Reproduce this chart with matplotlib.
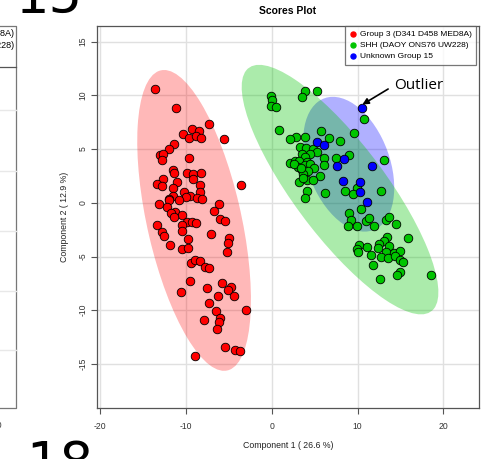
import numpy as np
import matplotlib
matplotlib.use("Agg")
import matplotlib.pyplot as plt
from matplotlib.patches import Ellipse
from matplotlib.lines import Line2D

# ---------------- data ----------------
red_x = [-13.64, -11.15, -7.27, -9.25, -8.44, -10.37, -9.6, -8.82, -8.28, -5.56, -11.39, -11.93, -13.02,
         -12.63, -12.75, -9.67, -11.47, -11.39, -9.91, -9.14, -8.28, -9.14, -12.7, -13.4, -12.82, -11.0,
         -11.54, -8.36, -8.36, -10.19, -9.52, -9.99, -8.67, -8.16, -11.47, -11.93, -12.0, -10.84, -13.13,
         -12.24, -6.11, -6.76, -11.27, -11.74, -10.45, -11.35, -6.03, -5.41, -9.91, -9.25, -8.82, -10.45,
         -13.37, -10.45, -12.79, -12.55, -7.11, -5.01, -5.13, -9.76, -11.82, -10.45, -9.76, -5.25, -9.44,
         -8.9, -8.36, -7.81, -7.31, -9.52, -5.76, -7.5, -4.74, -5.05, -10.61, -4.39, -6.29, -7.27, -6.53,
         -2.96, -6.03, -6.11, -7.93, -6.34, -5.44, -4.28, -3.73, -8.9, -3.58]
red_y = [10.64, 8.87, 7.38, 6.89, 6.64, 6.42, 6.05, 6.24, 6.02, 5.96, 5.43, 5.03, 4.44,
         4.5, 4.0, 4.16, 3.07, 2.82, 2.82, 2.7, 2.82, 2.2, 2.2, 1.77, 1.52, 1.96,
         1.4, 1.65, 1.02, 1.02, 0.65, 0.53, 0.47, 0.4, 0.65, 0.4, 0.28, 0.28, -0.09,
         -0.4, -0.09, -0.72, -0.81, -0.96, -1.12, -1.33, -1.52, -1.7, -1.77, -1.83, -1.89, -2.02,
         -2.05, -2.58, -2.73, -3.07, -2.91, -3.29, -3.7, -3.41, -3.94, -4.31, -4.25, -4.56, -5.59,
         -5.31, -5.46, -6.02, -6.08, -7.26, -7.48, -7.95, -7.79, -8.1, -8.32, -8.63, -8.69, -9.34, -10.06,
         -9.99, -10.71, -11.11, -10.89, -11.76, -13.44, -13.69, -13.78, -14.22, 1.65]

green_x = [3.89, 5.32, 3.57, -0.08, 0.0, -0.08, 0.51, 10.8, 0.86, 5.71, 9.63, 2.84, 3.89, 2.17, 6.68, 7.96,
           3.3, 3.96, 4.85, 5.32, 4.47, 3.5, 3.89, 6.1, 7.46, 9.01, 2.14, 2.72, 3.22, 4.15, 3.1, 3.89,
           4.47, 4.94, 6.14, 3.5, 4.2, 3.69, 5.67, 3.22, 4.15, 4.78, 3.65, 4.08, 6.22, 8.58, 9.91, 9.48,
           3.92, 13.05, 12.7, 2.63, 3.42,
           10.41, 9.01, 9.24, 8.93, 9.91, 11.0, 11.35, 11.96, 13.32, 13.71, 14.49, 15.85, 13.4, 13.13,
           12.5, 13.63, 10.18, 11.15, 9.98, 10.06, 12.35, 13.32, 14.29, 14.99, 11.6, 12.7, 13.55, 14.33,
           14.95, 15.34, 11.77, 14.95, 14.57, 12.62, 18.57]
green_y = [10.41, 10.44, 9.85, 9.95, 9.57, 9.04, 8.89, 7.83, 6.78, 6.66, 6.53, 6.16, 6.13, 5.94, 6.07, 5.76,
           5.2, 5.14, 5.01, 4.76, 4.55, 4.52, 4.3, 4.15, 4.2, 4.45, 3.71, 3.92, 3.9, 3.78, 3.37, 3.52,
           3.59, 3.28, 3.52, 3.06, 2.96, 2.65, 2.47, 1.91, 2.1, 2.16, 2.28, 1.14, 0.89, 1.13, 1.35, 0.79,
           0.42, 3.94, 1.1, 3.66, 3.26,
           -0.6, -0.98, -1.6, -2.16, -2.16, -1.66, -1.44, -2.16, -1.6, -1.29, -1.97, -3.24, -3.15, -3.55,
           -3.83, -4.02, -3.92, -4.08, -4.32, -4.6, -4.23, -4.54, -4.7, -4.45, -4.88, -5.01, -5.1, -4.95,
           -5.35, -5.51, -5.78, -6.44, -6.72, -7.12, -6.74]

blue_x = [10.53, 5.32, 6.06, 8.43, 7.65, 11.65, 8.28, 10.29, 10.33, 11.15]
blue_y = [8.8, 5.69, 5.38, 4.08, 3.43, 3.46, 2.03, 1.97, 1.04, 0.05]

group_labels = ["Group 3 (D341 D458 MED8A)", "SHH (DAOY ONS76 UW228)", "Unknown Group 15"]
group_colors = ["#FF0000", "#00C400", "#0000FF"]
x_ticks = [-20, -10, 0, 10, 20]
y_ticks = [-15, -10, -5, 0, 5, 10, 15]
x_label = "Component 1 ( 26.6 %)"
y_label = "Component 2 ( 12.9 %)"
title = "Scores Plot"

# ---------------- figure ----------------
W, H = 486, 459
fig = plt.figure(figsize=(W / 100, H / 100), dpi=100)
FONT = ["Liberation Sans", "DejaVu Sans"]


def fx(x):
    return x / W


def fy(y):
    return 1 - y / H


ax = fig.add_axes([fx(97), fy(408), (479 - 97) / W, (408 - 26) / H])
ax.set_xlim(-20.36, 24.15)
ax.set_ylim(-19.10, 16.46)

ax.set_xticks(x_ticks)
ax.set_yticks(y_ticks)
ax.set_xticklabels([str(t) for t in x_ticks], fontsize=6.2, family=FONT, color="#333333")
ax.set_yticklabels([str(t) for t in y_ticks], fontsize=6.2, family=FONT, color="#333333",
                   rotation=90, va="center")
ax.tick_params(axis="x", direction="out", length=4, width=0.8, color="#555555", pad=6)
ax.tick_params(axis="y", direction="out", length=4, width=0.8, color="#555555", pad=3)
ax.grid(True, color="#E0E0E0", linewidth=1.0)
ax.set_axisbelow(True)
for s in ax.spines.values():
    s.set_color("#555555")
    s.set_linewidth(0.9)

ax.set_xlabel(x_label, fontsize=6.3, family=FONT, color="#222222", labelpad=7)
ax.set_ylabel(y_label, fontsize=6.3, family=FONT, color="#222222", labelpad=7)
fig.text(fx(288), fy(11), title, fontsize=7.5, fontweight="bold", family=FONT,
         ha="center", va="center")


def conf_ellipse(x, y, color, alpha, z):
    x = np.asarray(x)
    y = np.asarray(y)
    cov = np.cov(x, y)
    vals, vecs = np.linalg.eigh(cov)
    order = vals.argsort()[::-1]
    vals, vecs = vals[order], vecs[:, order]
    r = np.sqrt(-2 * np.log(0.05))
    ang = np.degrees(np.arctan2(vecs[1, 0], vecs[0, 0]))
    e = Ellipse((x.mean(), y.mean()), 2 * r * np.sqrt(vals[0]), 2 * r * np.sqrt(vals[1]),
                angle=ang, facecolor=color, alpha=alpha, edgecolor="none", zorder=z)
    ax.add_patch(e)


conf_ellipse(red_x, red_y, group_colors[0], 0.28, 1)
conf_ellipse(blue_x, blue_y, group_colors[2], 0.31, 1)
conf_ellipse(green_x, green_y, group_colors[1], 0.33, 1.1)

for xs, ys, c in [(red_x, red_y, group_colors[0]), (green_x, green_y, group_colors[1]),
                  (blue_x, blue_y, group_colors[2])]:
    ax.scatter(xs, ys, s=38, c=c, edgecolors="black", linewidths=0.6, zorder=3)

ax.annotate("Outlier", xy=(10.15, 8.95), xytext=(14.3, 10.95),
            fontsize=11, family=["Open Sans", "DejaVu Sans"], va="center", ha="left",
            arrowprops=dict(arrowstyle="-|>", color="black", lw=1.2, shrinkA=3, shrinkB=3,
                            mutation_scale=9, relpos=(0, 0.5)), zorder=5)

handles = [Line2D([], [], marker="o", linestyle="none", markersize=3.6, markerfacecolor=c,
                  markeredgecolor=c) for c in group_colors]
leg = ax.legend(handles, group_labels, loc="upper right",
                bbox_to_anchor=(fx(476), fy(26)), bbox_transform=fig.transFigure,
                prop={"family": FONT, "size": 6.0}, frameon=True, fancybox=False,
                borderpad=0.55, handletextpad=0.35, handlelength=0.9, labelspacing=0.38,
                borderaxespad=0)
leg.get_frame().set_edgecolor("#555555")
leg.get_frame().set_linewidth(0.9)

# ---------------- remnants of neighbouring panels ----------------
gray = "#777777"
fig.add_artist(Line2D([fx(0), fx(16), fx(16), fx(0)], [fy(26), fy(26), fy(408), fy(408)],
                      color=gray, lw=0.9))
fig.add_artist(Line2D([fx(0), fx(16)], [fy(67), fy(67)], color="#555555", lw=0.9))
for gy in [110, 171, 231, 291, 350]:
    fig.add_artist(Line2D([fx(0), fx(15.5)], [fy(gy), fy(gy)], color="#E8E8E8", lw=1.0))
fig.text(fx(14), fy(33), "D458 MED8A)", fontsize=6.5, family=FONT, ha="right", va="center")
fig.text(fx(14), fy(46), "ONS76 UW228)", fontsize=6.5, family=FONT, ha="right", va="center")
fig.text(fx(-3), fy(425), "10", fontsize=6.2, family=FONT, ha="center", va="center",
         color="#333333")
fig.text(fx(15), fy(13), "15", fontsize=38, family="DejaVu Sans", ha="left", va="baseline")
fig.text(fx(26), fy(439), "18", fontsize=38, family="DejaVu Sans", ha="left", va="top")

fig.savefig("out.png", dpi=100)
